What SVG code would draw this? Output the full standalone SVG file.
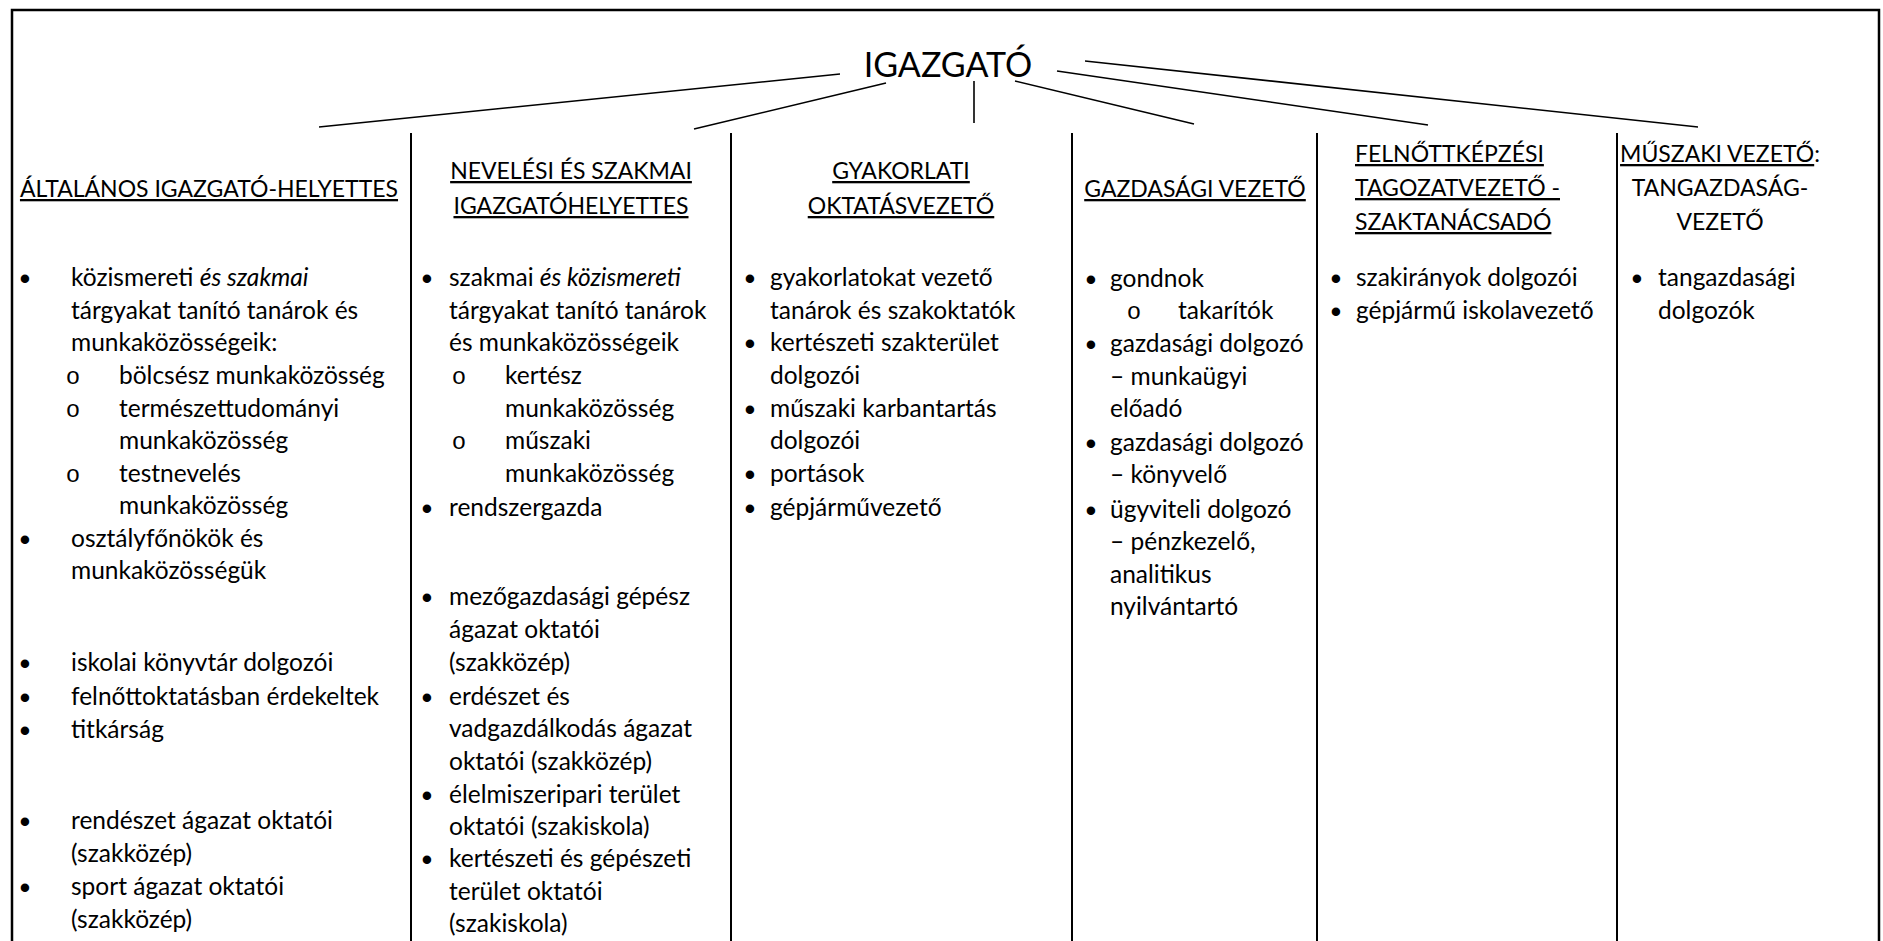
<svg xmlns="http://www.w3.org/2000/svg" width="1883" height="941" viewBox="0 0 1883 941">
<style>
text{font-family:Lato,"Liberation Sans",sans-serif;fill:#000}
.t{font-size:24.5px}
.h{font-size:23px}
.c{text-anchor:middle}
.u{text-decoration:underline}
.i{font-style:italic}
.bl{font-family:"Liberation Sans",sans-serif;font-size:31px}
.o{font-family:"Liberation Mono",monospace;font-size:24px}
.ln{stroke:#000;stroke-width:1.6;fill:none}
.dv{stroke:#000;stroke-width:2;fill:none}
</style>
<rect x="12" y="10" width="1867" height="945" fill="#fff" stroke="#000" stroke-width="2.5"/>
<g id="connectors">
<line class="ln" x1="840" y1="74" x2="319" y2="127"/>
<line class="ln" x1="886" y1="83" x2="694" y2="129"/>
<line class="ln" x1="974" y1="81" x2="974" y2="123"/>
<line class="ln" x1="1015" y1="81" x2="1194" y2="124"/>
<line class="ln" x1="1057" y1="71" x2="1428" y2="125"/>
<line class="ln" x1="1085" y1="61" x2="1698" y2="127"/>
</g>
<g id="dividers">
<line class="dv" x1="411" y1="133" x2="411" y2="941"/>
<line class="dv" x1="731" y1="133" x2="731" y2="941"/>
<line class="dv" x1="1072" y1="133" x2="1072" y2="941"/>
<line class="dv" x1="1317" y1="133" x2="1317" y2="941"/>
<line class="dv" x1="1617" y1="133" x2="1617" y2="941"/>
</g>
<g id="director">
<text x="948" y="77" class="c" font-size="34">IGAZGATÓ</text>
</g>
<g id="col1">
<text x="209" y="197" class="h c u">ÁLTALÁNOS IGAZGATÓ-HELYETTES</text>
<text x="25" y="286" dy="3" class="bl c">•</text>
<text x="71" y="286" class="t">közismereti <tspan class="i">és szakmai</tspan></text>
<text x="71" y="318.5" class="t">tárgyakat tanító tanárok és</text>
<text x="71" y="351" class="t">munkaközösségeik:</text>
<text x="73" y="384" class="o c">o</text>
<text x="119" y="384" class="t">bölcsész munkaközösség</text>
<text x="73" y="416.5" class="o c">o</text>
<text x="119" y="416.5" class="t">természettudományi</text>
<text x="119" y="449" class="t">munkaközösség</text>
<text x="73" y="481.5" class="o c">o</text>
<text x="119" y="481.5" class="t">testnevelés</text>
<text x="119" y="514" class="t">munkaközösség</text>
<text x="25" y="547" dy="3" class="bl c">•</text>
<text x="71" y="547" class="t">osztályfőnökök és</text>
<text x="71" y="579" class="t">munkaközösségük</text>
<text x="25" y="671" dy="3" class="bl c">•</text>
<text x="71" y="671" class="t">iskolai könyvtár dolgozói</text>
<text x="25" y="705" dy="3" class="bl c">•</text>
<text x="71" y="705" class="t">felnőttoktatásban érdekeltek</text>
<text x="25" y="738" dy="3" class="bl c">•</text>
<text x="71" y="738" class="t">titkárság</text>
<text x="25" y="829" dy="3" class="bl c">•</text>
<text x="71" y="829" class="t">rendészet ágazat oktatói</text>
<text x="71" y="862" class="t">(szakközép)</text>
<text x="25" y="895" dy="3" class="bl c">•</text>
<text x="71" y="895" class="t">sport ágazat oktatói</text>
<text x="71" y="928" class="t">(szakközép)</text>
</g>
<g id="col2">
<text x="571" y="179" class="h c u">NEVELÉSI ÉS SZAKMAI</text>
<text x="571" y="214" class="h c u">IGAZGATÓHELYETTES</text>
<text x="427" y="286" dy="3" class="bl c">•</text>
<text x="449" y="286" class="t">szakmai <tspan class="i">és közismereti</tspan></text>
<text x="449" y="318.5" class="t">tárgyakat tanító tanárok</text>
<text x="449" y="351" class="t">és munkaközösségeik</text>
<text x="459" y="384" class="o c">o</text>
<text x="505" y="384" class="t">kertész</text>
<text x="505" y="416.5" class="t">munkaközösség</text>
<text x="459" y="449" class="o c">o</text>
<text x="505" y="449" class="t">műszaki</text>
<text x="505" y="481.5" class="t">munkaközösség</text>
<text x="427" y="516" dy="3" class="bl c">•</text>
<text x="449" y="516" class="t">rendszergazda</text>
<text x="427" y="605" dy="3" class="bl c">•</text>
<text x="449" y="605" class="t">mezőgazdasági gépész</text>
<text x="449" y="638" class="t">ágazat oktatói</text>
<text x="449" y="671" class="t">(szakközép)</text>
<text x="427" y="705" dy="3" class="bl c">•</text>
<text x="449" y="705" class="t">erdészet és</text>
<text x="449" y="737" class="t">vadgazdálkodás ágazat</text>
<text x="449" y="770" class="t">oktatói (szakközép)</text>
<text x="427" y="803" dy="3" class="bl c">•</text>
<text x="449" y="803" class="t">élelmiszeripari terület</text>
<text x="449" y="835" class="t">oktatói (szakiskola)</text>
<text x="427" y="867" dy="3" class="bl c">•</text>
<text x="449" y="867" class="t">kertészeti és gépészeti</text>
<text x="449" y="900" class="t">terület oktatói</text>
<text x="449" y="932" class="t">(szakiskola)</text>
</g>
<g id="col3">
<text x="901" y="179" class="h c u">GYAKORLATI</text>
<text x="901" y="214" class="h c u">OKTATÁSVEZETŐ</text>
<text x="750" y="286" dy="3" class="bl c">•</text>
<text x="770" y="286" class="t">gyakorlatokat vezető</text>
<text x="770" y="318.5" class="t">tanárok és szakoktatók</text>
<text x="750" y="351" dy="3" class="bl c">•</text>
<text x="770" y="351" class="t">kertészeti szakterület</text>
<text x="770" y="384" class="t">dolgozói</text>
<text x="750" y="416.5" dy="3" class="bl c">•</text>
<text x="770" y="416.5" class="t">műszaki karbantartás</text>
<text x="770" y="449" class="t">dolgozói</text>
<text x="750" y="481.5" dy="3" class="bl c">•</text>
<text x="770" y="481.5" class="t">portások</text>
<text x="750" y="516" dy="3" class="bl c">•</text>
<text x="770" y="516" class="t">gépjárművezető</text>
</g>
<g id="col4">
<text x="1195" y="197" class="h c u">GAZDASÁGI VEZETŐ</text>
<text x="1091" y="286.5" dy="3" class="bl c">•</text>
<text x="1110" y="286.5" class="t">gondnok</text>
<text x="1134" y="319" class="o c">o</text>
<text x="1178" y="319" class="t">takarítók</text>
<text x="1091" y="352" dy="3" class="bl c">•</text>
<text x="1110" y="352" class="t">gazdasági dolgozó</text>
<text x="1110" y="385" class="t">– munkaügyi</text>
<text x="1110" y="417" class="t">előadó</text>
<text x="1091" y="451" dy="3" class="bl c">•</text>
<text x="1110" y="451" class="t">gazdasági dolgozó</text>
<text x="1110" y="483" class="t">– könyvelő</text>
<text x="1091" y="518" dy="3" class="bl c">•</text>
<text x="1110" y="518" class="t">ügyviteli dolgozó</text>
<text x="1110" y="550" class="t">– pénzkezelő,</text>
<text x="1110" y="583" class="t">analitikus</text>
<text x="1110" y="615" class="t">nyilvántartó</text>
</g>
<g id="col5">
<text x="1355" y="162" class="h u">FELNŐTTKÉPZÉSI</text>
<text x="1355" y="196" class="h u">TAGOZATVEZETŐ -</text>
<text x="1355" y="230" class="h u">SZAKTANÁCSADÓ</text>
<text x="1336" y="286" dy="3" class="bl c">•</text>
<text x="1356" y="286" class="t">szakirányok dolgozói</text>
<text x="1336" y="318.5" dy="3" class="bl c">•</text>
<text x="1356" y="318.5" class="t">gépjármű iskolavezető</text>
</g>
<g id="col6">
<text x="1720" y="162" class="h c"><tspan class="u">MŰSZAKI VEZETŐ</tspan>:</text>
<text x="1720" y="196" class="h c">TANGAZDASÁG-</text>
<text x="1720" y="230" class="h c">VEZETŐ</text>
<text x="1637" y="286" dy="3" class="bl c">•</text>
<text x="1658" y="286" class="t">tangazdasági</text>
<text x="1658" y="318.5" class="t">dolgozók</text>
</g>
</svg>
